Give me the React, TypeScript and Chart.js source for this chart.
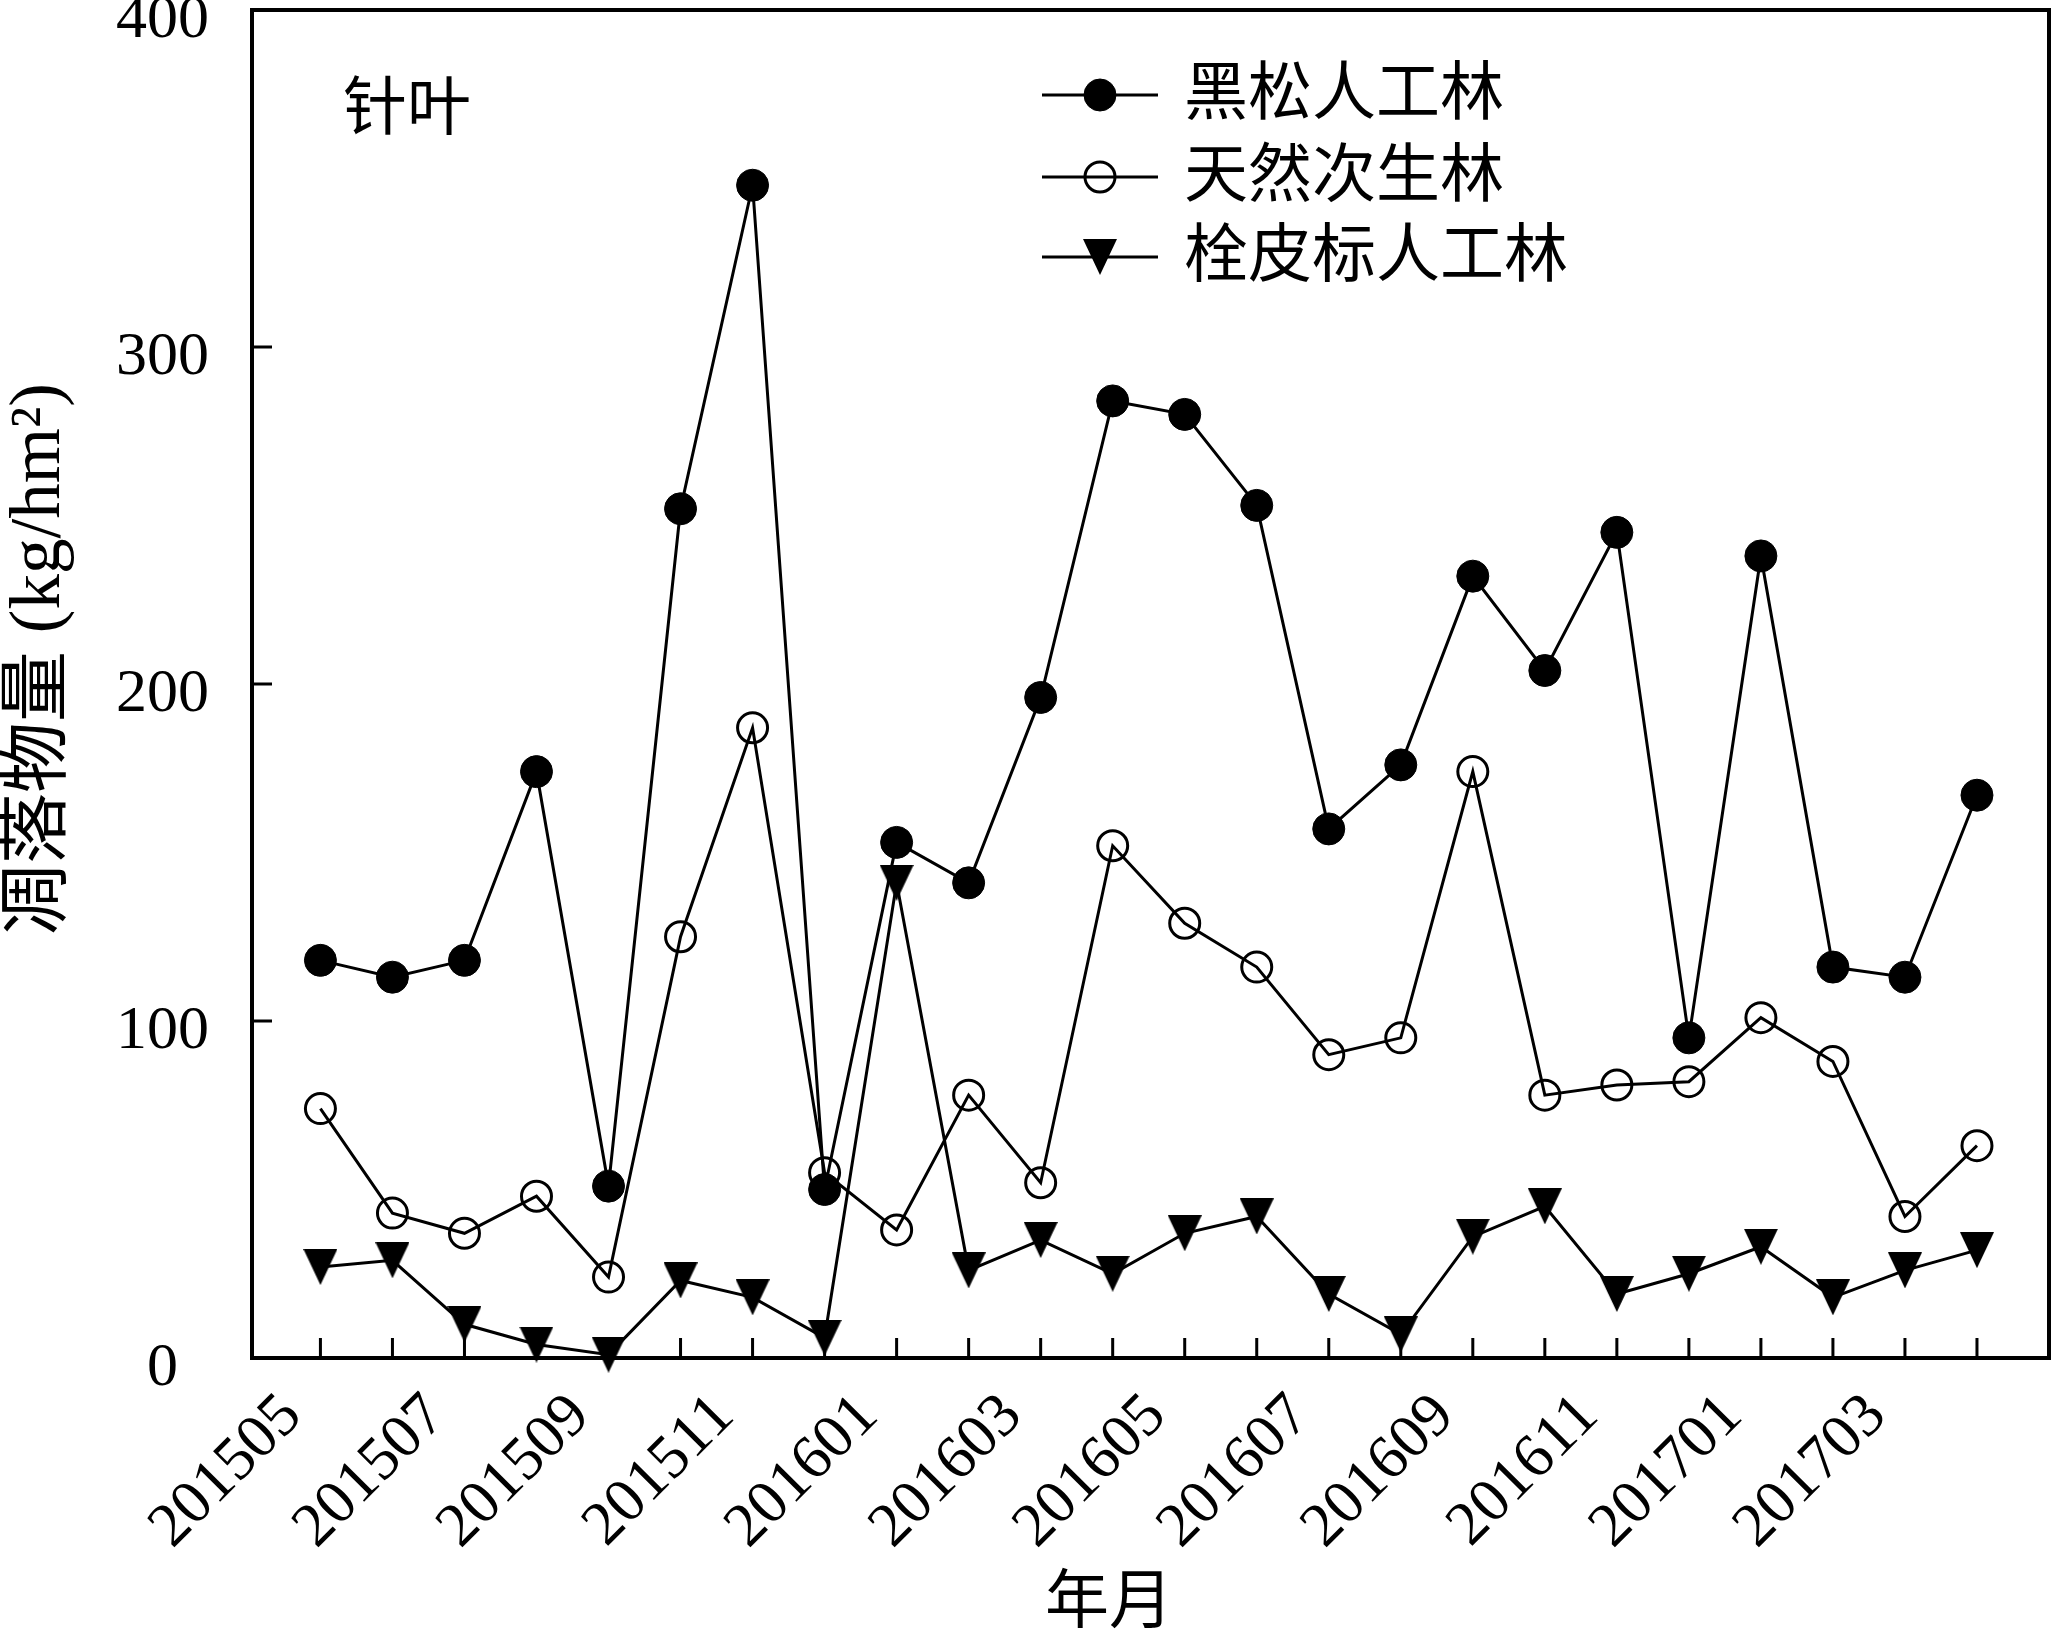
import React, { useEffect, useRef } from 'react';
import { Chart, registerables } from 'chart.js';
import { drawPoint } from 'chart.js/helpers';

Chart.register(...registerables);

// months on the x axis (every month has a point, every second one a label)
const months = [
  '201505', '201506', '201507', '201508', '201509', '201510', '201511', '201512',
  '201601', '201602', '201603', '201604', '201605', '201606', '201607', '201608',
  '201609', '201610', '201611', '201612', '201701', '201702', '201703', '201704',
];

// 黑松人工林
const blackPine = [
  118, 113, 118, 174, 51, 252, 348, 50,
  153, 141, 196, 284, 280, 253, 157, 176,
  232, 204, 245, 95, 238, 116, 113, 167,
];

// 天然次生林
const naturalForest = [
  74, 43, 37, 48, 24, 125, 187, 55,
  38, 78, 52, 152, 129, 116, 90, 95,
  174, 78, 81, 82, 101, 88, 42, 63,
];

// 栓皮栎人工林
const oakPlantation = [
  27, 29, 10, 4, 1, 23, 18, 6,
  141, 26, 35, 25, 37, 42, 19, 7,
  36, 45, 19, 25, 33, 18, 26, 32,
];

const seriesNames = ['黑松人工林', '天然次生林', '栓皮标人工林'];
const yTicks = [0, 100, 200, 300, 400];
const xTitle = '年月';
const yTitle = '凋落物量 (kg/hm²)';
const panelLabel = '针叶';

const FONT = '"Liberation Serif", "Times New Roman", "Noto Sans CJK SC", serif';
const INK = '#000';

const toPoints = (arr: number[]) => arr.map((y, i) => ({ x: i, y }));

// downward triangle marker, a little taller than equilateral like the original
const makeTriangle = (w: number, h: number) => {
  const c = document.createElement('canvas');
  c.width = w;
  c.height = h;
  const g = c.getContext('2d')!;
  g.fillStyle = INK;
  g.beginPath();
  g.moveTo(0, 0);
  g.lineTo(w, 0);
  g.lineTo(w / 2, h);
  g.closePath();
  g.fill();
  return c;
};

const App: React.FC = () => {
  const canvasRef = useRef<HTMLCanvasElement>(null);
  const chartRef = useRef<Chart | null>(null);

  useEffect(() => {
    if (!canvasRef.current) return;
    if (chartRef.current) chartRef.current.destroy();

    const triangle = makeTriangle(34, 36);

    // box around the plot, inward tick marks, titles and the legend
    const framePlugin = {
      id: 'frame',
      beforeDatasetsDraw(chart: any) {
        const { ctx, chartArea: a, scales } = chart;
        ctx.save();
        ctx.strokeStyle = INK;
        ctx.lineWidth = 4;
        ctx.strokeRect(a.left, a.top, a.right - a.left, a.bottom - a.top);
        ctx.lineWidth = 3;
        ctx.beginPath();
        months.forEach((_, i) => {
          const px = scales.x.getPixelForValue(i);
          ctx.moveTo(px, a.bottom);
          ctx.lineTo(px, a.bottom - 20);
        });
        yTicks.slice(1, -1).forEach((v) => {
          const py = scales.y.getPixelForValue(v);
          ctx.moveTo(a.left, py);
          ctx.lineTo(a.left + 20, py);
        });
        ctx.stroke();
        ctx.restore();
      },
      afterDraw(chart: any) {
        const { ctx, chartArea: a } = chart;
        ctx.save();
        ctx.fillStyle = INK;
        ctx.textBaseline = 'middle';

        // axis titles
        ctx.font = `64px ${FONT}`;
        ctx.textAlign = 'center';
        ctx.fillText(xTitle, a.left + 857, a.bottom + 247);
        ctx.save();
        ctx.translate(40, (a.top + a.bottom) / 2 - 25);
        ctx.rotate(-Math.PI / 2);
        ctx.font = `71px ${FONT}`;
        ctx.fillText(yTitle, 0, 0);
        ctx.restore();

        ctx.font = `64px ${FONT}`;
        ctx.textAlign = 'left';
        ctx.fillText(panelLabel, a.left + 91, a.top + 102);

        // legend: line with marker, then the name
        const rows = [85, 167, 247];
        chart.data.datasets.forEach((ds: any, i: number) => {
          const y = a.top + rows[i];
          ctx.strokeStyle = INK;
          ctx.lineWidth = 3;
          ctx.beginPath();
          ctx.moveTo(a.left + 790, y);
          ctx.lineTo(a.left + 906, y);
          ctx.stroke();
          ctx.fillStyle = ds.pointBackgroundColor;
          ctx.strokeStyle = INK;
          ctx.lineWidth = ds.pointBorderWidth;
          drawPoint(ctx, {
            pointStyle: ds.pointStyle,
            rotation: 0,
            radius: ds.pointRadius,
            borderWidth: ds.pointBorderWidth,
          }, a.left + 848, y);
          ctx.fillStyle = INK;
          ctx.fillText(ds.label, a.left + 932, y + 2);
        });
        ctx.restore();
      },
    };

    chartRef.current = new Chart(canvasRef.current, {
      type: 'line',
      data: {
        datasets: [
          {
            label: seriesNames[0],
            data: toPoints(blackPine),
            borderColor: INK,
            borderWidth: 3,
            pointStyle: 'circle',
            pointRadius: 16,
            pointBackgroundColor: INK,
            pointBorderColor: INK,
            pointBorderWidth: 1,
            clip: false,
          },
          {
            label: seriesNames[1],
            data: toPoints(naturalForest),
            borderColor: INK,
            borderWidth: 3,
            pointStyle: 'circle',
            pointRadius: 15,
            pointBackgroundColor: 'rgba(0,0,0,0)',
            pointBorderColor: INK,
            pointBorderWidth: 3,
            clip: false,
          },
          {
            label: seriesNames[2],
            data: toPoints(oakPlantation),
            borderColor: INK,
            borderWidth: 3,
            pointStyle: triangle,
            pointRadius: 18,
            pointBackgroundColor: INK,
            pointBorderColor: INK,
            pointBorderWidth: 1,
            clip: false,
          },
        ],
      },
      options: {
        animation: false,
        responsive: false,
        devicePixelRatio: 1,
        layout: { autoPadding: false, padding: { top: 10, right: 2, left: 0, bottom: 0 } },
        plugins: {
          legend: { display: false },
          tooltip: { enabled: false },
        },
        scales: {
          x: {
            type: 'linear',
            min: -0.95,
            max: 24,
            grid: { display: false, drawTicks: false },
            border: { display: false },
            afterBuildTicks: (s: any) => {
              s.ticks = months.map((_, i) => ({ value: i }));
            },
            afterFit: (s: any) => {
              s.height = 279;
              s.paddingLeft = 0;
              s.paddingRight = 0;
            },
            ticks: {
              autoSkip: false,
              minRotation: 45,
              maxRotation: 45,
              padding: 22,
              labelOffset: -28,
              color: INK,
              font: { family: FONT, size: 62 },
              callback: (v: any) => (Number.isInteger(v) && v % 2 === 0 ? months[v] : ''),
            },
            title: { display: false },
          },
          y: {
            min: 0,
            max: 400,
            grid: { display: false, drawTicks: false },
            border: { display: false },
            afterBuildTicks: (s: any) => {
              s.ticks = yTicks.map((v) => ({ value: v }));
            },
            afterFit: (s: any) => {
              s.width = 252;
              s.paddingTop = 0;
              s.paddingBottom = 0;
            },
            ticks: {
              padding: 43,
              labelOffset: 11,
              color: INK,
              font: { family: FONT, size: 62 },
              // the zero label sits a little left of the others in the original
              callback: (v: any) => (v === 0 ? '0  ' : String(v)),
            },
            title: { display: false },
          },
        },
      },
      plugins: [framePlugin],
    } as any);

    return () => {
      if (chartRef.current) {
        chartRef.current.destroy();
        chartRef.current = null;
      }
    };
  }, []);

  return (
    <div style={{ position: 'absolute', left: 0, top: 0, width: 2051, height: 1637, background: '#fff' }}>
      <canvas ref={canvasRef} width={2051} height={1637} style={{ display: 'block' }} />
    </div>
  );
};

export default App;
